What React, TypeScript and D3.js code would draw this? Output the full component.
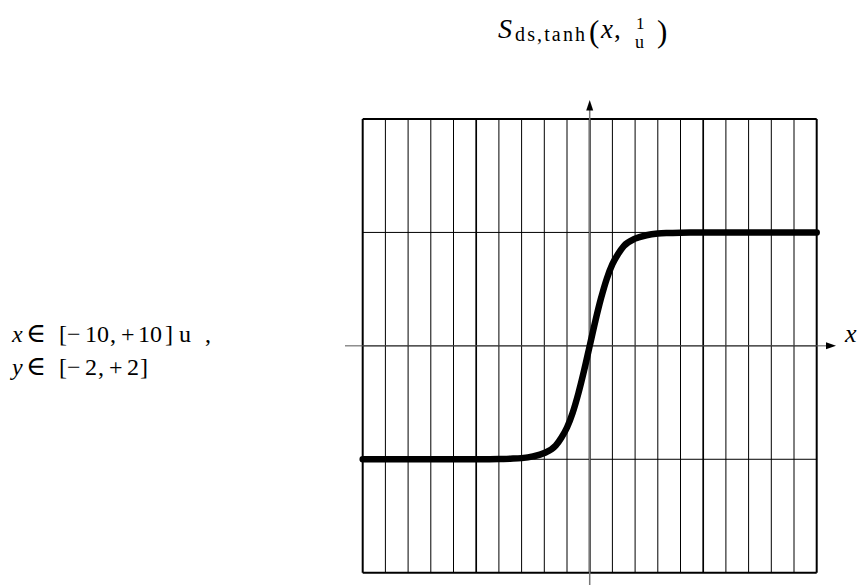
import React from "react";
import * as d3 from "d3";

// Sampled points of the smoothed step S_ds,tanh(x, 1/u)
const sampleX = [-10, -6, -4, -3.5, -3, -2.5, -2, -1.5, -1.25, -1, -0.75, -0.5, -0.25, 0, 0.25, 0.5, 0.75, 1, 1.25, 1.5, 2, 2.5, 3, 3.5, 4, 6, 10];
const sampleY = [-1, -1, -0.998, -0.995, -0.99, -0.975, -0.945, -0.88, -0.81, -0.72, -0.59, -0.42, -0.22, 0, 0.22, 0.42, 0.59, 0.72, 0.81, 0.88, 0.945, 0.975, 0.99, 0.995, 0.998, 1, 1];

const xDomain: [number, number] = [-10, 10];
const yDomain: [number, number] = [-2, 2];
const xGridValues = d3.range(-10, 11, 1);
const yGridValues = d3.range(-2, 3, 1);
const majorX = [-5, 5];

// Domain annotation, typeset glyph by glyph: [text, left edge, italic, size]
const rangeLineX: [string, number, boolean, number][] = [
  ["x", 12, true, 24], ["∈", 26, false, 27], ["[", 59, false, 24], ["−", 67, false, 24], ["10", 85, false, 24],
  [",", 110, false, 24], ["+", 121, false, 24], ["10", 138, false, 24], ["]", 165, false, 24], ["u", 179, false, 24], [",", 205, false, 24],
];
const rangeLineY: [string, number, boolean, number][] = [
  ["y", 12, true, 24], ["∈", 26, false, 27], ["[", 59, false, 24], ["−", 67, false, 24], ["2", 85, false, 24],
  [",", 98, false, 24], ["+", 109, false, 24], ["2", 127, false, 24], ["]", 140, false, 24],
];

const W = 857;
const H = 585;
const SERIF = "'Liberation Serif', 'DejaVu Serif', serif";

export default function App() {
  const x = d3.scaleLinear().domain(xDomain).range([362.7, 816.7]);
  const y = d3.scaleLinear().domain(yDomain).range([572.7, 119]);

  const pts: [number, number][] = sampleX.map((v, i) => [v, sampleY[i]]);
  const line = d3
    .line<[number, number]>()
    .x((d) => x(d[0]))
    .y((d) => y(d[1]))
    .curve(d3.curveMonotoneX);

  const x0 = x(0);
  const y0 = y(0);

  return (
    <svg
      width={W}
      height={H}
      viewBox={`0 0 ${W} ${H}`}
      style={{ position: "absolute", left: 0, top: 0, background: "#fff", fontFamily: SERIF }}
    >
      <rect x={0} y={0} width={W} height={H} fill="#fff" />

      {/* Title */}
      <g style={{ fontFamily: SERIF }} fill="#000">
        <text x={498} y={38} fontSize={28} fontStyle="italic">S</text>
        <text x={515} y={41} fontSize={20} textLength={70} lengthAdjust="spacing">ds,tanh</text>
        <text x={589} y={42} fontSize={31}>(</text>
        <text x={601} y={38} fontSize={27} fontStyle="italic">x</text>
        <text x={614} y={38} fontSize={27}>,</text>
        <text x={636} y={29} fontSize={17}>1</text>
        <text x={635} y={48} fontSize={18}>u</text>
        <text x={657} y={42} fontSize={31}>)</text>
      </g>

      {/* Domain annotation */}
      <g style={{ fontFamily: SERIF }} fill="#000">
        {rangeLineX.map(([t, px, it, fs], i) => (
          <text key={`rx${i}`} x={px} y={342} fontSize={fs} fontStyle={it ? "italic" : "normal"}>{t}</text>
        ))}
        {rangeLineY.map(([t, px, it, fs], i) => (
          <text key={`ry${i}`} x={px} y={375} fontSize={fs} fontStyle={it ? "italic" : "normal"}>{t}</text>
        ))}
      </g>

      {/* Grid */}
      <g stroke="#000" fill="none">
        {xGridValues.map((v) => (
          <line
            key={`gx${v}`}
            x1={x(v)}
            x2={x(v)}
            y1={y(yDomain[0])}
            y2={y(yDomain[1])}
            strokeWidth={v === 0 ? 2 : majorX.includes(v) ? 1.7 : Math.abs(v) === 10 ? 2 : 1}
          />
        ))}
        {yGridValues.map((v) => (
          <line
            key={`gy${v}`}
            x1={x(xDomain[0])}
            x2={x(xDomain[1])}
            y1={y(v)}
            y2={y(v)}
            strokeWidth={Math.abs(v) === 2 ? 2 : 1}
          />
        ))}
      </g>

      {/* Axes */}
      <g>
        <line x1={345} x2={828} y1={y0} y2={y0} stroke="#555" strokeWidth={1} />
        <path d={`M836,${y0} L826,${y0 - 3.5} L826,${y0 + 3.5} Z`} fill="#000" />
        <line x1={x0} x2={x0} y1={585} y2={109} stroke="#777" strokeWidth={1.5} />
        <path d={`M${x0},100 L${x0 - 3.5},110.5 L${x0 + 3.5},110.5 Z`} fill="#000" />
        <text x={845} y={342} style={{ fontFamily: SERIF }} fontSize={26} fontStyle="italic">x</text>
      </g>

      {/* Curve */}
      <path
        d={line(pts) ?? ""}
        fill="none"
        stroke="#000"
        strokeWidth={6.5}
        strokeLinecap="round"
        strokeLinejoin="round"
      />
    </svg>
  );
}
